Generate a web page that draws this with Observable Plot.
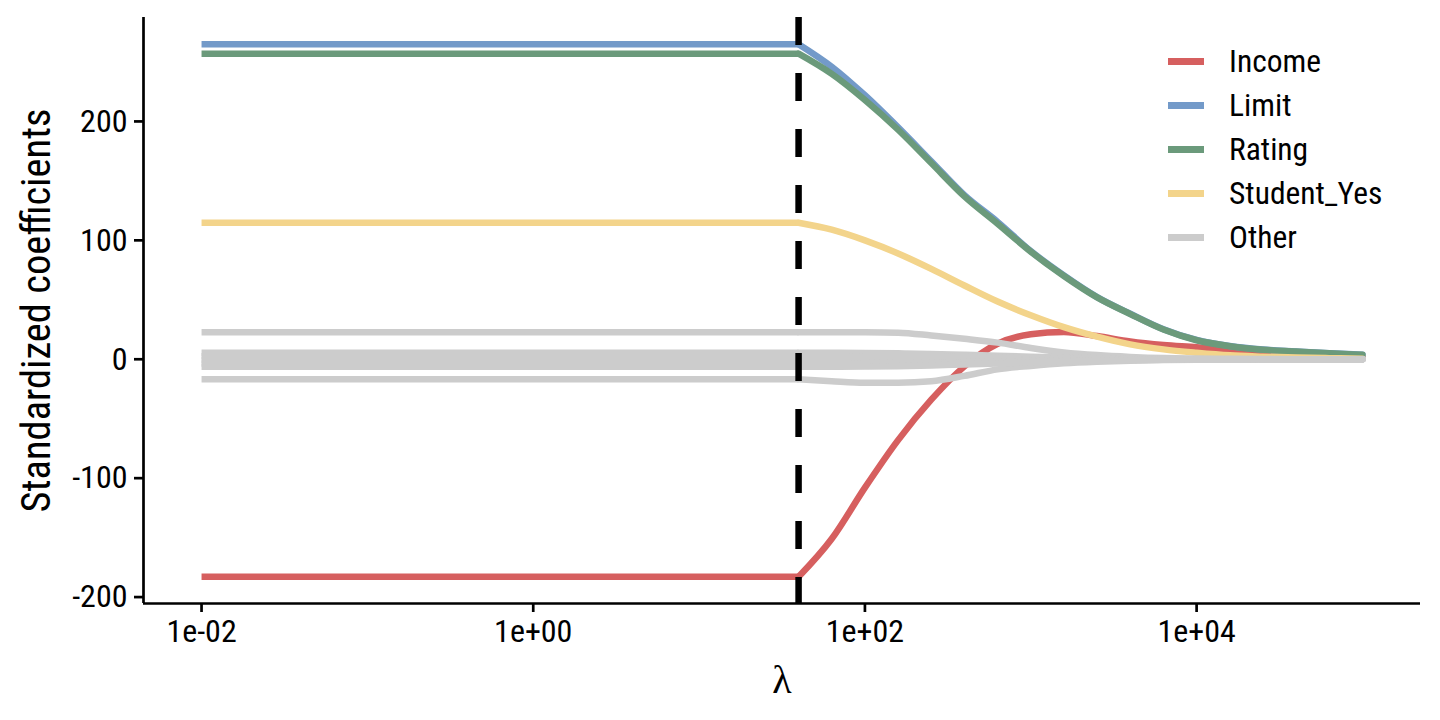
<!DOCTYPE html>
<html>
<head>
<meta charset="utf-8">
<script src="https://cdn.jsdelivr.net/npm/d3@7"></script>
<script src="https://cdn.jsdelivr.net/npm/@observablehq/plot@0.6"></script>
<style>
  html, body { margin: 0; padding: 0; background: #fff; }
  #wrap { position: relative; width: 1440px; height: 720px; }
  .lg { position: absolute; left: 1168px; top: 39px; font-family: "Roboto Condensed", "Liberation Sans Narrow", "DejaVu Sans Condensed", Roboto, sans-serif; font-size: 31.5px; color: #000; }
  .lg .row { display: flex; align-items: center; height: 44px; }
  .lg .key { width: 36px; height: 7px; margin-right: 25px; flex: none; }
</style>
</head>
<body>
<div id="wrap"></div>
<script>
// lambda grid (x values)
const lambdas = [0.01, 39.81, 63.1, 100, 158.5, 251.2, 398.1, 631, 1000, 1585, 2512, 3981, 6310, 10000, 15849, 25119, 39811, 63096, 100000];
// coefficient paths
const income     = [-183, -183, -151, -108, -68, -34, -6, 13, 21, 23, 19.5, 15, 12, 10, 7.5, 5.5, 4, 2.5, 1.5];
const limit      = [265, 265, 246, 222, 195, 166.5, 138, 115.5, 91, 70.5, 52.3, 38.3, 25.3, 16.3, 11.2, 8.2, 6.6, 5.1, 3.8];
const rating     = [257, 257, 240, 218, 193, 165, 137, 114, 90.5, 70, 52, 38, 25, 16, 11, 8, 6.5, 5, 3.7];
const studentYes = [114.8, 114.8, 109, 100, 89, 76, 62, 48.5, 37, 27, 19, 12.5, 8.3, 5.5, 3.3, 2.2, 1.4, 0.9, 0.5];
const other1 = [22.8, 22.8, 22.8, 22.7, 22.3, 20, 17.2, 14, 9.5, 5.8, 3.5, 2, 1, 0.6, 0.4, 0.2, 0.1, 0.05, 0];
const other2 = [-16.9, -16.9, -18.5, -19.7, -19.7, -18.5, -14, -8.5, -5.6, -3.3, -2, -1.2, -0.7, -0.4, -0.2, -0.1, -0.05, 0, 0];
const other3 = [5.5, 5.5, 5.5, 5.3, 5.0, 4.5, 3.8, 3.0, 2.2, 1.4, 0.8, 0.4, 0.1, 0, 0, 0, 0, 0, 0];
const other4 = [2.5, 2.5, 2.5, 2.4, 2.3, 2.1, 1.8, 1.4, 1.0, 0.6, 0.3, 0.1, 0, 0, 0, 0, 0, 0, 0];
const other5 = [-0.5, -0.5, -0.5, -0.5, -0.5, -0.5, -0.4, -0.4, -0.3, -0.3, -0.2, -0.2, -0.1, -0.1, 0, 0, 0, 0, 0];
const other6 = [-3.5, -3.5, -3.5, -3.4, -3.2, -2.9, -2.5, -2.0, -1.5, -1.1, -0.8, -0.5, -0.3, -0.2, -0.1, 0, 0, 0, 0];
const other7 = [-6.3, -6.3, -6.3, -6.1, -5.8, -5.2, -4.4, -3.5, -2.6, -1.8, -1.2, -0.8, -0.5, -0.3, -0.2, -0.1, 0, 0, 0];

const groups = ["Income", "Limit", "Rating", "Student_Yes", "Other"];
const colors = ["#d65f5f", "#739ac9", "#6b9a7b", "#f3d48b", "#cccccc"];
const selectedLambda = 39.81;
const xTicks = [0.01, 1, 100, 10000];
const xTickLabels = ["1e-02", "1e+00", "1e+02", "1e+04"];
const yTicks = [-200, -100, 0, 100, 200];
const yTickLabels = ["-200", "-100", "0", "100", "200"];
const xDomain = [Math.pow(10, -2.35), Math.pow(10, 5.35)];
const yDomain = [-205.4, 287.4];

const series = [
  ["Income", "Income", income],
  ["Limit", "Limit", limit],
  ["Rating", "Rating", rating],
  ["Student_Yes", "Student_Yes", studentYes],
  ["Other1", "Other", other1],
  ["Other2", "Other", other2],
  ["Other3", "Other", other3],
  ["Other4", "Other", other4],
  ["Other5", "Other", other5],
  ["Other6", "Other", other6],
  ["Other7", "Other", other7]
];
const data = [];
for (const [name, group, vals] of series) {
  vals.forEach((v, i) => data.push({lambda: lambdas[i], value: v, series: name, group}));
}
const flatPart = data.filter((d) => d.lambda <= selectedLambda);
const shrinkPart = data.filter((d) => d.lambda >= selectedLambda);

const font = '"Roboto Condensed", "Liberation Sans Narrow", "DejaVu Sans Condensed", Roboto, sans-serif';

const chart = Plot.plot({
  width: 1440,
  height: 720,
  marginLeft: 143,
  marginRight: 20,
  marginTop: 17,
  marginBottom: 117,
  style: {fontFamily: font, fontSize: "32px", color: "#000", background: "#fff"},
  x: {type: "log", domain: xDomain},
  y: {domain: yDomain},
  color: {domain: groups, range: colors},
  marks: [
    Plot.line(flatPart, {x: "lambda", y: "value", z: "series", stroke: "group", strokeWidth: 6.5, strokeLinecap: "butt", curve: "linear"}),
    Plot.line(shrinkPart, {x: "lambda", y: "value", z: "series", stroke: "group", strokeWidth: 6.5, strokeLinecap: "round", curve: "monotone-x"}),
    Plot.ruleX([selectedLambda], {stroke: "#000", strokeWidth: 6.5, strokeDasharray: "28,28"}),
    Plot.ruleX([xDomain[0]], {stroke: "#000", strokeWidth: 2.7}),
    Plot.ruleY([yDomain[0]], {stroke: "#000", strokeWidth: 2.7}),
    Plot.axisX({ticks: xTicks, tickFormat: (d) => xTickLabels[xTicks.indexOf(d)], tickSize: 9, tickPadding: 7, strokeWidth: 2.7, fontSize: 32, label: null}),
    Plot.axisY({ticks: yTicks, tickFormat: (d) => yTickLabels[yTicks.indexOf(d)], tickSize: 9, tickPadding: 7, strokeWidth: 2.7, fontSize: 32, label: null}),
    Plot.text(["Standardized coefficients"], {frameAnchor: "left", textAnchor: "middle", lineAnchor: "middle", rotate: -90, dx: -106, fontSize: 40.5, fill: "#000"}),
    Plot.text(["λ"], {frameAnchor: "bottom", textAnchor: "middle", lineAnchor: "middle", dy: 77, fontSize: 40, fill: "#000", fontFamily: '"Liberation Serif", "DejaVu Serif", serif'})
  ]
});

const wrap = document.getElementById("wrap");
wrap.appendChild(chart);

const lg = document.createElement("div");
lg.className = "lg";
groups.forEach((g, i) => {
  const row = document.createElement("div");
  row.className = "row";
  const key = document.createElement("span");
  key.className = "key";
  key.style.background = colors[i];
  const lab = document.createElement("span");
  lab.textContent = g;
  row.appendChild(key);
  row.appendChild(lab);
  lg.appendChild(row);
});
wrap.appendChild(lg);
</script>
</body>
</html>
